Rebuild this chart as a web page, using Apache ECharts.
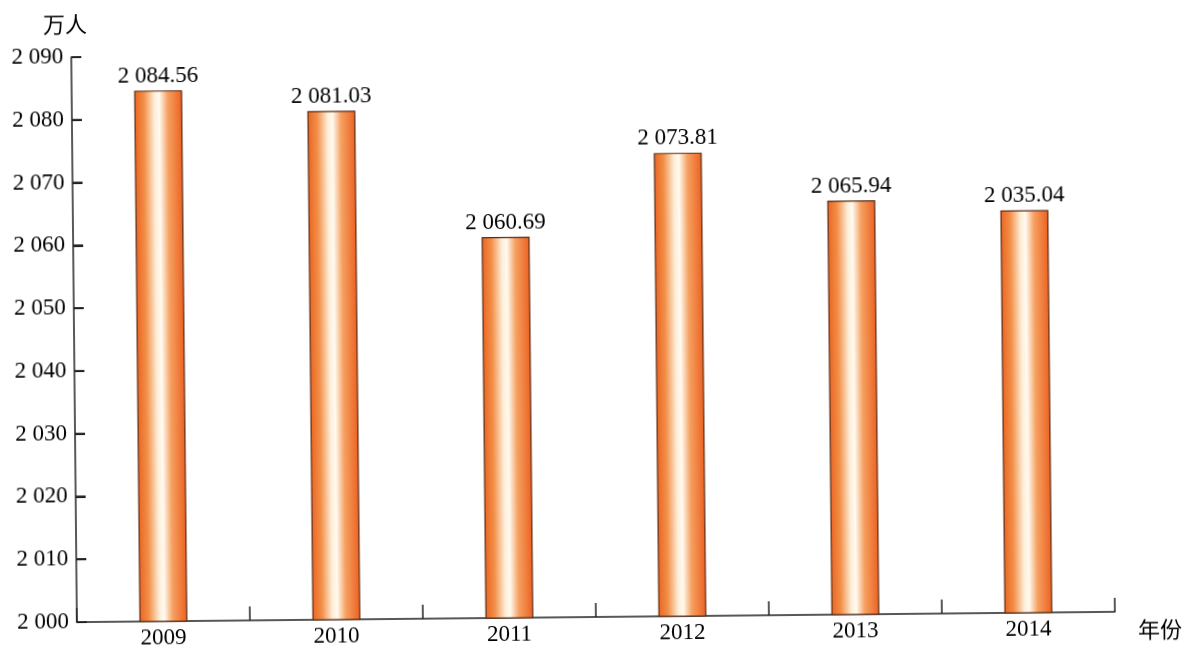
<!DOCTYPE html>
<html>
<head>
<meta charset="utf-8">
<script src="https://cdn.jsdelivr.net/npm/echarts@6/dist/echarts.min.js"></script>
<style>
html,body{margin:0;padding:0;background:#fff;overflow:hidden;}
#c{width:1185px;height:656px;transform:rotate(-0.57deg);transform-origin:50% 50%;}
</style>
</head>
<body>
<div id="c"></div>
<script>
const years = ['2009','2010','2011','2012','2013','2014'];
const barValues = [2084.56, 2081.03, 2060.69, 2073.81, 2065.94, 2064.1];
const barLabels = ['2 084.56','2 081.03','2 060.69','2 073.81','2 065.94','2 035.04'];
const yTicks = [2000, 2010, 2020, 2030, 2040, 2050, 2060, 2070, 2080, 2090];
const yMin = 2000, yMax = 2090, yStep = 10;
const yUnit = '万人';
const xUnit = '年份';

const serif = '"Liberation Serif", "DejaVu Serif", serif';
const cjk = '"Noto Sans CJK SC", sans-serif';
const axisColor = '#222';

const chart = echarts.init(document.getElementById('c'));
const barGradient = new echarts.graphic.LinearGradient(0, 0, 1, 0, [
  {offset: 0, color: '#ea6420'},
  {offset: 0.2, color: '#f28f48'},
  {offset: 0.42, color: '#fdeed8'},
  {offset: 0.52, color: '#fffaf0'},
  {offset: 0.7, color: '#f5a060'},
  {offset: 1, color: '#ec6020'}
]);

chart.setOption({
  animation: false,
  backgroundColor: '#fff',
  grid: {left: 74, right: 73, top: 52, bottom: 39, containLabel: false},
  xAxis: {
    type: 'category',
    data: years,
    boundaryGap: true,
    axisLine: {show: true, lineStyle: {color: axisColor, width: 1.5}},
    axisTick: {show: true, inside: true, length: 14, alignWithLabel: false, lineStyle: {color: axisColor, width: 1.5}},
    axisLabel: {color: '#000', fontFamily: serif, fontSize: 23, margin: 5}
  },
  yAxis: {
    type: 'value',
    min: yMin, max: yMax, interval: yStep,
    splitLine: {show: false},
    axisLine: {show: true, lineStyle: {color: axisColor, width: 1.5}},
    axisTick: {show: true, inside: true, length: 10, lineStyle: {color: axisColor, width: 2}},
    axisLabel: {
      color: '#000', fontFamily: serif, fontSize: 23, margin: 8,
      formatter: v => { const s = String(v); return s.slice(0, 1) + ' ' + s.slice(1); }
    }
  },
  graphic: [
    {type: 'text', left: 46, top: 8, style: {text: yUnit, fontFamily: cjk, fontSize: 22, fill: '#000'}},
    {type: 'text', left: 1135, top: 624, style: {text: xUnit, fontFamily: cjk, fontSize: 22, fill: '#000'}}
  ],
  series: [{
    type: 'bar',
    data: barValues,
    barWidth: 48,
    itemStyle: {color: barGradient, borderColor: '#5a2a12', borderWidth: 1.2},
    label: {
      show: true, position: 'top', distance: 3,
      fontFamily: serif, fontSize: 23, color: '#000',
      formatter: p => barLabels[p.dataIndex]
    }
  }, {
    type: 'custom',
    silent: true,
    clip: false,
    z: 5,
    data: yTicks.map(v => [0, v]),
    renderItem: (params, api) => {
      const p = api.coord([0, api.value(1)]);
      const half = api.size([1, 0])[0] / 2;
      const x0 = p[0] - half;
      return {
        type: 'line',
        shape: {x1: x0, y1: p[1], x2: x0 + 10, y2: p[1]},
        style: {stroke: axisColor, lineWidth: 2}
      };
    }
  }]
});
</script>
</body>
</html>
